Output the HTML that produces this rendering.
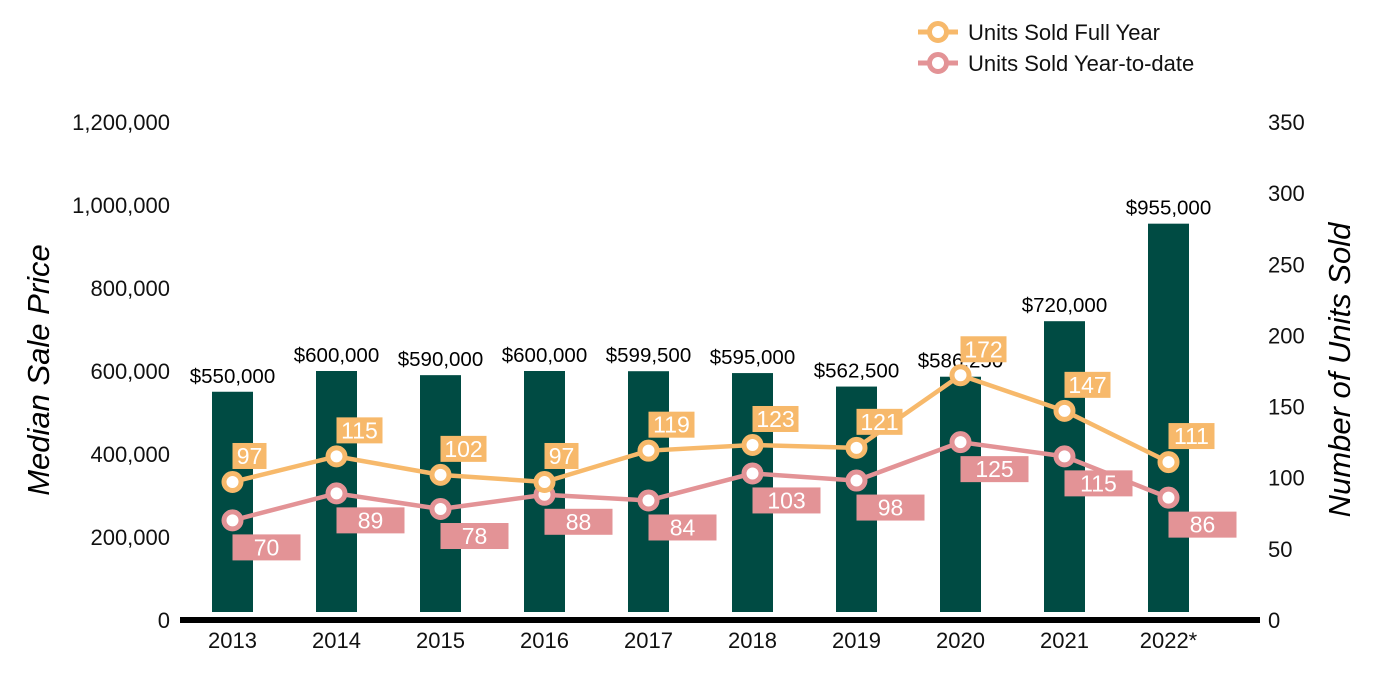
<!DOCTYPE html>
<html><head><meta charset="utf-8"><style>
body{margin:0;background:#fff;}
svg{display:block;font-family:"Liberation Sans",sans-serif;}
</style></head><body>
<svg id="c" width="1400" height="700"></svg>
<script>
const years=["2013","2014","2015","2016","2017","2018","2019","2020","2021","2022*"];
const prices=[550000,600000,590000,600000,599500,595000,562500,586250,720000,955000];
const priceLabels=["$550,000","$600,000","$590,000","$600,000","$599,500","$595,000","$562,500","$586,250","$720,000","$955,000"];
const fullYear=[97,115,102,97,119,123,121,172,147,111];
const ytd=[70,89,78,88,84,103,98,125,115,86];
const leftTicks=[0,200000,400000,600000,800000,1000000,1200000];
const rightTicks=[0,50,100,150,200,250,300,350];
const NS="http://www.w3.org/2000/svg";
const svg=document.getElementById('c');
const y0=620,yTop=122;
const yL=v=>y0-(v/1200000)*(y0-yTop);
const yR=v=>y0-(v/350)*(y0-yTop);
const xC=i=>232.5+i*104;
function mk(t,a,txt){const e=document.createElementNS(NS,t);for(const k in a)e.setAttribute(k,a[k]);if(txt!==undefined)e.textContent=txt;svg.appendChild(e);return e;}
leftTicks.forEach(v=>{const e=mk('text',{x:170,y:yL(v)+8,'text-anchor':'end','font-size':22,fill:'#111'},v.toLocaleString('en-US'));

});
rightTicks.forEach(v=>{const e=mk('text',{x:1268,y:yR(v)+8,'font-size':22,fill:'#111'},String(v));

});
prices.forEach((v,i)=>{const b=mk('rect',{x:xC(i)-20.5,y:yL(v),width:41,height:612-yL(v),fill:'#004B43'});


const t=mk('text',{x:xC(i),y:yL(v)-9,'text-anchor':'middle','font-size':20.5,fill:'#000'},priceLabels[i]);


const xl=mk('text',{x:xC(i),y:648,'text-anchor':'middle','font-size':22,fill:'#111'},years[i]);

});
const ax=mk('rect',{x:180,y:617,width:1080,height:6,fill:'#000'});


function series(vals,color,name,above){
 const l=mk('polyline',{points:vals.map((v,i)=>xC(i)+','+yR(v)).join(' '),fill:'none',stroke:color,'stroke-width':4.5});
 
 
 vals.forEach((v,i)=>{const x=xC(i),y=yR(v);
  const s=String(v);const w=above?(s.length*12+10):68;
  const by=above?y-39:y+14;
  const r=mk('rect',{x:x,y:by,width:w,height:26,fill:color});
  
  
  const t=mk('text',{x:x+w/2,y:by+21,'text-anchor':'middle','font-size':23,fill:'#fff'},s);
  
  
 });
 vals.forEach((v,i)=>{const c=mk('circle',{cx:xC(i),cy:yR(v),r:8.5,fill:'#fff',stroke:color,'stroke-width':5});
  
  });
}
series(ytd,'#E39396','ytd',false);
series(fullYear,'#F7B96B','full-year',true);
[['#F7B96B','Units Sold Full Year',32],['#E39396','Units Sold Year-to-date',63]].forEach(([c,t,y])=>{
 const l=mk('line',{x1:918,y1:y,x2:958,y2:y,stroke:c,'stroke-width':5});
 
 
 const ci=mk('circle',{cx:938,cy:y,r:8.5,fill:'#fff',stroke:c,'stroke-width':5});
 
 
 const tx=mk('text',{x:968,y:y+8,'font-size':22,fill:'#111'},t);
 
 
});
const lt=mk('text',{x:0,y:0,'font-size':31,'font-style':'italic','text-anchor':'middle',fill:'#000',transform:'translate(49,370) rotate(-90)'},'Median Sale Price');


const rt=mk('text',{x:0,y:0,'font-size':31,'font-style':'italic','text-anchor':'middle',fill:'#000',transform:'translate(1350,370) rotate(-90)'},'Number of Units Sold');


</script>
</body></html>
